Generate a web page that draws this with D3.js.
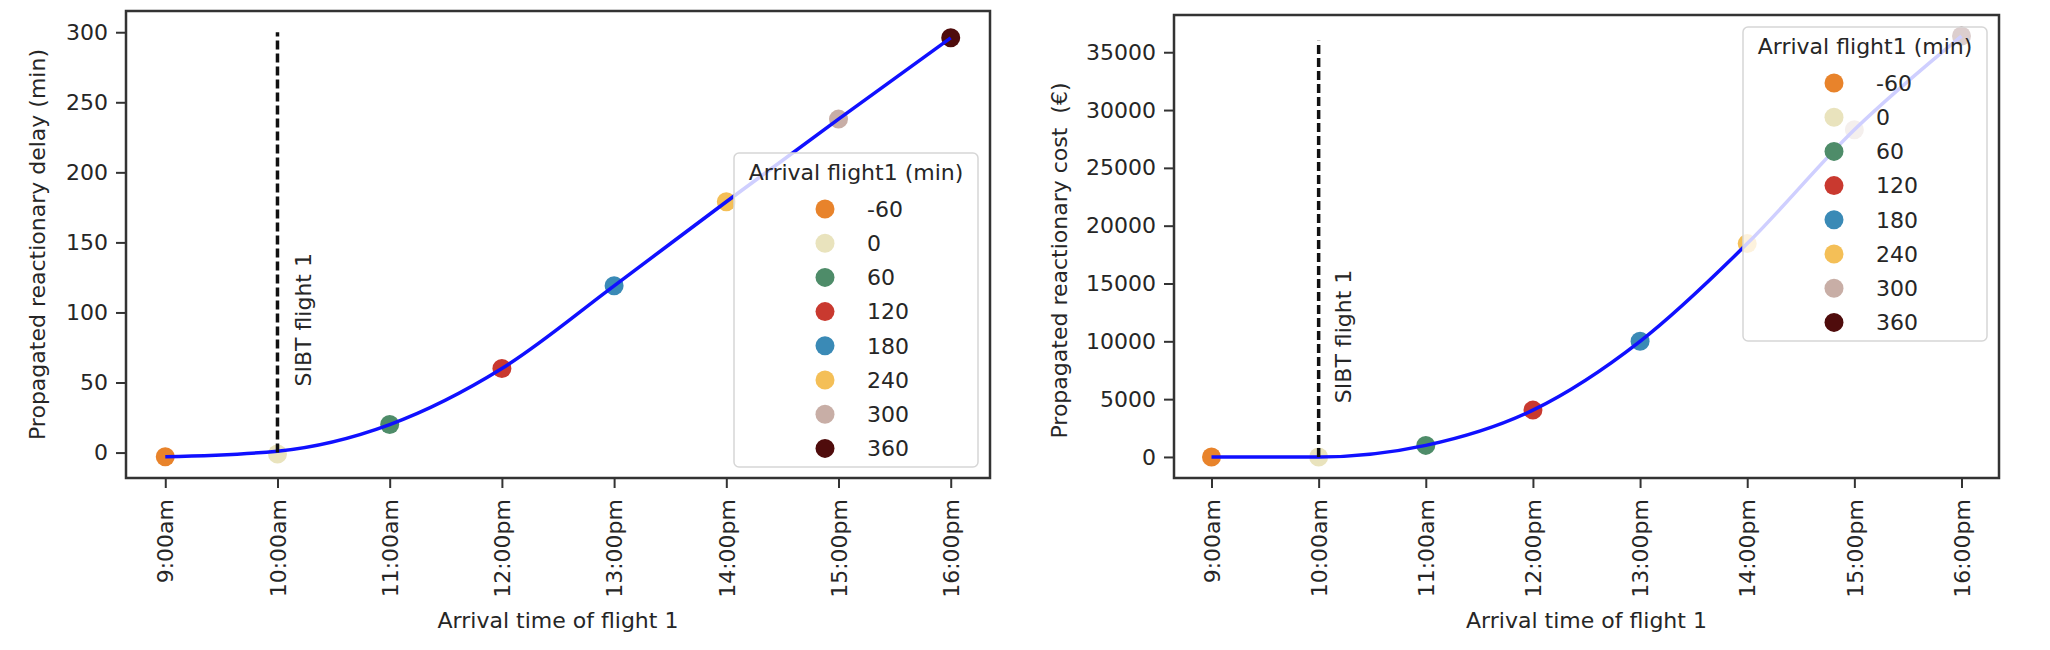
<!DOCTYPE html>
<html>
<head>
<meta charset="utf-8">
<script src="https://cdn.jsdelivr.net/npm/d3@7"></script>
<style>
  body { margin: 0; background: #fff; }
  text { font-family: "DejaVu Sans", sans-serif; fill: #262626; }
</style>
</head>
<body>
<script>
// arrival times (x categories) and the legend groups
const timeLabels = ["9:00am", "10:00am", "11:00am", "12:00pm", "13:00pm", "14:00pm", "15:00pm", "16:00pm"];
const arrivalMin = [-60, 0, 60, 120, 180, 240, 300, 360];
const pointColors = ["#e8832b", "#e9e3bd", "#4e8c69", "#c9392f", "#3a8ab6", "#f4bf57", "#c8aea6", "#4f0c0c"];

// left panel: propagated delay (min)
const delayPoints = [-3, -1, 20, 60, 119, 179, 238, 296];
const delayCurve = [-3, 1, 20, 60, 119, 179, 238, 296];
const delayTicks = [0, 50, 100, 150, 200, 250, 300];

// right panel: propagated cost (EUR)
const costPoints = [0, 0, 1000, 4050, 10000, 18450, 28300, 36400];
const costCurve = [0, 0, 1000, 4050, 10000, 18450, 28300, 36400];
const costTicks = [0, 5000, 10000, 15000, 20000, 25000, 30000, 35000];

const svg = d3.select('body').append('svg')
    .attr('width', 2050)
    .attr('height', 650);

drawPanel({
    left: 126, right: 990, top: 11, bottom: 478,
    points: delayPoints, curve: delayCurve, ticks: delayTicks,
    sibtTop: 300, sibtText: 50,
    yLabel: "Propagated reactionary delay (min)", yLabelX: 45, yLabelShift: 0,
    legendAt: 'lower'
});

drawPanel({
    left: 1174, right: 1999, top: 15, bottom: 478,
    points: costPoints, curve: costCurve, ticks: costTicks,
    sibtTop: 36000, sibtText: 5000,
    yLabel: "Propagated reactionary cost  (€)", yLabelX: 1067, yLabelShift: 14,
    legendAt: 'upper'
});

function drawPanel(p) {
    const g = svg.append('g');

    const x = d3.scaleLinear()
        .domain([-0.35, timeLabels.length - 1 + 0.35])
        .range([p.left, p.right]);

    // matplotlib-like 5% margins around the data
    const lo = Math.min(d3.min(p.points), d3.min(p.curve), 0);
    const hi = Math.max(d3.max(p.points), d3.max(p.curve), p.sibtTop);
    const pad = (hi - lo) * 0.05;
    const y = d3.scaleLinear()
        .domain([lo - pad, hi + pad])
        .range([p.bottom, p.top]);

    // axes
    const xAxis = d3.axisBottom(x)
        .tickValues(d3.range(timeLabels.length))
        .tickFormat(i => timeLabels[i])
        .tickSize(10)
        .tickPadding(11);

    const yAxis = d3.axisLeft(y)
        .tickValues(p.ticks)
        .tickFormat(d => d)
        .tickSize(10)
        .tickPadding(8);

    const gx = g.append('g')
        .attr('transform', `translate(0, ${p.bottom})`)
        .call(xAxis);
    gx.select('.domain').remove();
    gx.selectAll('.tick line').attr('stroke', '#333').attr('stroke-width', 2);
    gx.selectAll('.tick text')
        .attr('font-size', 22)
        .attr('text-anchor', 'end')
        .attr('transform', 'rotate(-90)')
        .attr('x', -21)
        .attr('y', 0)
        .attr('dy', '0.35em');

    const gy = g.append('g')
        .attr('transform', `translate(${p.left}, 0)`)
        .call(yAxis);
    gy.select('.domain').remove();
    gy.selectAll('.tick line').attr('stroke', '#333').attr('stroke-width', 2);
    gy.selectAll('.tick text').attr('font-size', 22);

    // scatter points
    g.selectAll('circle.pt')
        .data(p.points)
        .enter()
        .append('circle')
        .attr('class', 'pt')
        .attr('cx', (d, i) => x(i))
        .attr('cy', d => y(d))
        .attr('r', 9.5)
        .attr('fill', (d, i) => pointColors[i]);

    // fitted curve
    const line = d3.line()
        .x((d, i) => x(i))
        .y(d => y(d))
        .curve(d3.curveMonotoneX);

    g.append('path')
        .datum(p.curve)
        .attr('fill', 'none')
        .attr('stroke', '#1010ff')
        .attr('stroke-width', 3.5)
        .attr('d', line);

    // SIBT marker
    g.append('line')
        .attr('x1', x(1)).attr('x2', x(1))
        .attr('y1', y(0)).attr('y2', y(p.sibtTop))
        .attr('stroke', '#111')
        .attr('stroke-width', 3.5)
        .attr('stroke-dasharray', '9,4');

    g.append('text')
        .attr('transform', `translate(${x(1.3)}, ${y(p.sibtText) + 4}) rotate(-90)`)
        .attr('font-size', 22)
        .text("SIBT flight 1");

    // frame
    g.append('rect')
        .attr('x', p.left).attr('y', p.top)
        .attr('width', p.right - p.left)
        .attr('height', p.bottom - p.top)
        .attr('fill', 'none')
        .attr('stroke', '#333')
        .attr('stroke-width', 2.5);

    // axis titles
    g.append('text')
        .attr('x', (p.left + p.right) / 2)
        .attr('y', 628)
        .attr('text-anchor', 'middle')
        .attr('font-size', 22)
        .text("Arrival time of flight 1");

    g.append('text')
        .attr('transform', `translate(${p.yLabelX}, ${(p.top + p.bottom) / 2 + p.yLabelShift}) rotate(-90)`)
        .attr('text-anchor', 'middle')
        .attr('font-size', 22)
        .style('white-space', 'pre')
        .text(p.yLabel);

    // legend
    const lw = 244, lh = 314;
    const lx = p.right - 12 - lw;
    const ly = p.legendAt === 'upper' ? p.top + 12 : p.bottom - 11 - lh;
    const leg = g.append('g').attr('transform', `translate(${lx}, ${ly})`);

    leg.append('rect')
        .attr('width', lw).attr('height', lh)
        .attr('rx', 5)
        .attr('fill', 'white')
        .attr('fill-opacity', 0.8)
        .attr('stroke', '#d6d6d6')
        .attr('stroke-width', 1.5);

    leg.append('text')
        .attr('x', lw / 2)
        .attr('y', 19)
        .attr('dy', '0.35em')
        .attr('text-anchor', 'middle')
        .attr('font-size', 22)
        .text("Arrival flight1 (min)");

    const rows = leg.selectAll('g.row')
        .data(arrivalMin)
        .enter()
        .append('g')
        .attr('class', 'row')
        .attr('transform', (d, i) => `translate(0, ${56 + i * 34.2})`);

    rows.append('circle')
        .attr('cx', 91)
        .attr('r', 9.5)
        .attr('fill', (d, i) => pointColors[i]);

    rows.append('text')
        .attr('x', 133)
        .attr('dy', '0.35em')
        .attr('font-size', 22)
        .text(d => d);
}
</script>
</body>
</html>
